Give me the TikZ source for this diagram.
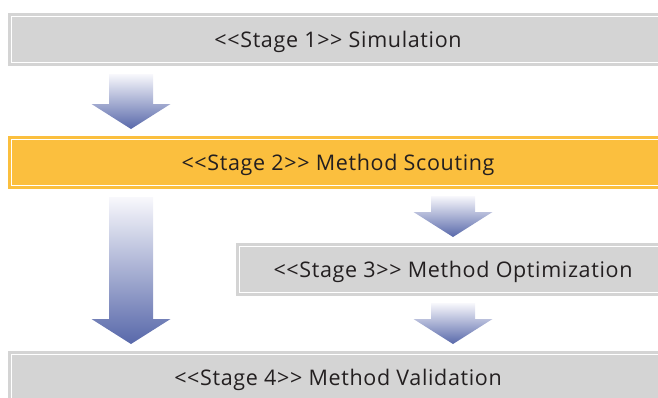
\documentclass[tikz,border=0pt]{standalone}
\usepackage{fontspec}
\setmainfont[LetterSpace=3]{Open Sans}
\definecolor{boxgray}{RGB}{212,212,212}
\definecolor{boxorange}{RGB}{251,191,62}
\definecolor{txt}{RGB}{35,31,32}
\definecolor{arrtop}{RGB}{248,248,252}
\definecolor{arrbot}{RGB}{88,104,170}
\newcommand{\stgL}{{<}{<}}
\newcommand{\stgR}{{>}{>}}
\begin{document}
\begin{tikzpicture}[x=1pt,y=-1pt,
  stagebox/.style={draw=#1, fill=#1, double=white, double distance=1pt, line width=3pt,
    minimum height=46pt, inner sep=0pt, outer sep=0pt, text=txt,
    text height=18.5pt, text depth=2pt,
    font=\fontsize{21.5}{23}\selectfont},
  flowarrow/.style={top color=arrtop, bottom color=arrbot, draw=none}]
\clip (0,0) rectangle (658,397);
\node[stagebox=boxgray, minimum width=653pt] (s1) at (338,39.5) {\stgL Stage 1\stgR{} Simulation};
\node[stagebox=boxorange, minimum width=653pt] (s2) at (338,162.5) {\stgL Stage 2\stgR{} Method Scouting};
\node[stagebox=boxgray, minimum width=427pt] (s3) at (453,269.5) {\stgL Stage 3\stgR{} Method Optimization};
\node[stagebox=boxgray, minimum width=653pt] (s4) at (338,377.5) {\stgL Stage 4\stgR{} Method Validation};
% arrows: shaft half-width 22, head half-width 39.5, head length 25
\coordinate (a1t) at (131,74);  \coordinate (a1e) at (131,129);
\coordinate (a2t) at (131,197); \coordinate (a2e) at (131,344);
\coordinate (a3t) at (453,196); \coordinate (a3e) at (453,237);
\coordinate (a4t) at (453,303); \coordinate (a4e) at (453,344);
\foreach \t/\e in {a1t/a1e,a2t/a2e,a3t/a3e,a4t/a4e}{
  \path[flowarrow] ([xshift=-22pt]\t) -- ([xshift=-22pt,yshift=25pt]\e) -- ([xshift=-39.5pt,yshift=25pt]\e)
    -- (\e) -- ([xshift=39.5pt,yshift=25pt]\e) -- ([xshift=22pt,yshift=25pt]\e) -- ([xshift=22pt]\t) -- cycle;
}
\end{tikzpicture}
\end{document}
